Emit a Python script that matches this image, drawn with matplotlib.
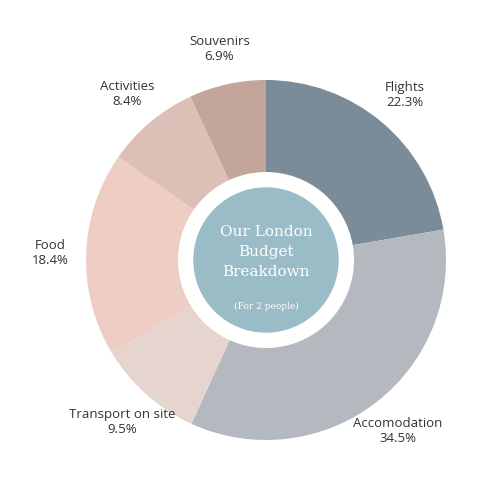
import matplotlib
matplotlib.use("Agg")
import matplotlib.pyplot as plt
from matplotlib.patches import Circle

categories = ["Flights", "Accomodation", "Transport on site", "Food", "Activities", "Souvenirs"]
values = [22.3, 34.5, 9.5, 18.4, 8.4, 6.9]
colors = ["#7a8c9a", "#b3b9bf", "#e6d4cf", "#eecdc4", "#dcbfb6", "#c4a599"]

plt.rcParams['font.family'] = ['Open Sans', 'DejaVu Sans']
fig = plt.figure(figsize=(5, 5), dpi=100)
ax = fig.add_axes([0, 0, 1, 1])
ax.set_xlim(-250, 250)
ax.set_ylim(-250, 250)
ax.set_aspect('equal')
ax.axis('off')

cx, cy, R = 16, -10, 180
labels = [f"{c}\n{v}%" for c, v in zip(categories, values)]
wedges, texts = ax.pie(values, colors=colors, startangle=90, counterclock=False,
                       radius=R, center=(cx, cy), labels=labels, labeldistance=1.2,
                       wedgeprops=dict(width=R - 88, linewidth=0),
                       textprops=dict(fontsize=9.5, color="#333333", ha='center', va='center'))
for t in texts:
    t.set_ha('center')
ax.set_xlim(-250, 250)
ax.set_ylim(-250, 250)
ax.add_patch(Circle((cx, cy), 72, color="#99bcc7", zorder=5))
ax.text(cx, cy + 8, "Our London\nBudget\nBreakdown", ha='center', va='center', fontsize=11,
        color='white', zorder=6, linespacing=1.5, family=['DejaVu Serif'])
ax.text(cx, cy - 46, "(For 2 people)", ha='center', va='center', fontsize=6.5,
        color='white', zorder=6, family=['DejaVu Serif'])
fig.savefig("out.png", dpi=100, facecolor='white')
